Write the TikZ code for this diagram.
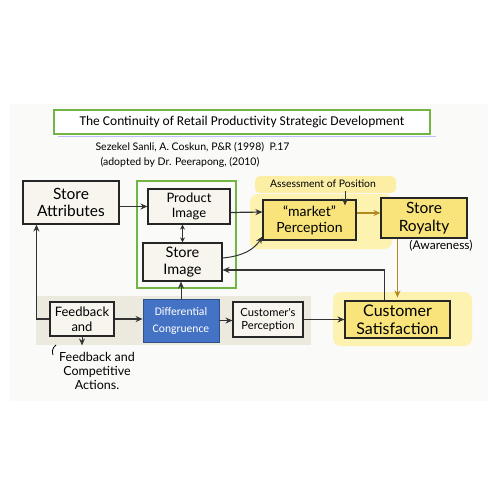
\documentclass[tikz,border=0pt]{standalone}
\usepackage{fontspec}
\setmainfont{Carlito}
\newfontfamily\hand{Lato}
\usetikzlibrary{arrows.meta,calc}
\definecolor{boxfill}{HTML}{F7F5EE}
\definecolor{yfill}{HTML}{F8E47A}
\definecolor{yglow}{HTML}{FDF2B0}
\definecolor{gframe}{HTML}{72B545}
\definecolor{bluebox}{HTML}{4472C4}
\definecolor{band}{HTML}{ECEADF}
\definecolor{brownarr}{HTML}{B08A1E}
\definecolor{bgpanel}{HTML}{FAFAF8}
\begin{document}
\begin{tikzpicture}[x=1pt,y=-1pt,
  box/.style={draw=black!85, line width=1.1pt, fill=boxfill, align=center, inner sep=1pt},
  ybox/.style={box, fill=yfill},
  arr/.style={-{Stealth[length=7pt,width=6pt]}, line width=1.2pt, draw=black!80},
  barr/.style={arr, draw=brownarr, -{Stealth[length=7pt,width=6pt,fill=brownarr]}},
  hw/.style={font=\hand\fontsize{#1}{#1}\selectfont\setlength{\baselineskip}{1.15\baselineskip}},
  hw/.default=11]
\useasboundingbox (0,0) rectangle (500,500);
\fill[white] (0,0) rectangle (500,500);
\fill[bgpanel] (10,104) rectangle (488,401);

% highlight blobs
\fill[yglow!80!yfill, rounded corners=5pt] (255,176) rectangle (396,193);
\fill[yglow, rounded corners=8pt] (250,194) rectangle (392,249);
\fill[yglow, rounded corners=8pt] (333,292) rectangle (472,346);
% beige band
\fill[band] (36,296) rectangle (311,345);

% title
\draw[blue!25, line width=1pt] (58,136) -- (436,136);
\node[draw=gframe, line width=1.2pt, fill=white, minimum width=376pt, minimum height=24pt,
      font=\fontsize{13.5}{14}\selectfont] (title) at (242,122)
      {The Continuity of Retail Productivity Strategic Development};

% citation
\node[hw=10.5, anchor=west] (cite1) at (92,147) {Sezekel Sanli, A. Coskun, P\&R (1998)\ \ P.17};
\node[hw=10.5, anchor=west] (cite2) at (97,162) {(adopted by Dr. Peerapong, (2010)};

% green frame
\node[draw=gframe, line width=2pt, minimum width=99pt, minimum height=107pt] (gf) at (186.5,234.5) {};

% boxes
\node[box, hw=15.5, minimum width=96pt, minimum height=43pt] (sa) at (71,202.5) {Store\\Attributes};
\node[box, hw=13, minimum width=82pt, minimum height=35pt] (pi) at (189,206.5) {Product\\Image};
\node[box, hw=14.5, minimum width=79pt, minimum height=38pt] (si) at (182.5,262) {Store\\Image};
\node[ybox, hw=14, minimum width=93pt, minimum height=40pt] (mp) at (309.5,220) {“market”\\Perception};
\node[ybox, hw=15.5, minimum width=86pt, minimum height=40pt] (sr) at (424,218) {Store\\Royalty};
\node[ybox, hw=16, minimum width=105pt, minimum height=37pt] (cs) at (397.5,319.5) {Customer\\Satisfaction};
\node[box, hw=13, minimum width=64pt, minimum height=34pt] (fb) at (82,319) {Feedback\\and};
\node[draw=bluebox!70!black, line width=0.8pt, fill=bluebox, text=white, align=center,
      minimum width=76pt, minimum height=43pt, font=\fontsize{11.6}{17}\selectfont] (dc) at (181,320.5) {Differential\\Congruence};
\node[box, hw=11.2, minimum width=70pt, minimum height=35pt] (cp) at (268,319.5) {Customer's\\Perception};

% labels
\node[hw=10.4] (asp) at (323,184) {Assessment of Position};
\node[hw=12] (aw) at (441,246) {(Awareness)};
\node[hw=12.5, align=center] (fca) at (97,371) {Feedback and\\Competitive\\Actions.};
\draw[line width=0.8pt] (56,345) .. controls (52,348) and (52,352) .. (53,355);

% connectors
\draw[arr] (sa.east |- pi.west) -- (pi.west);
\draw[arr] ([yshift=-6pt]pi.east) -- ([yshift=8pt]mp.west);
\draw[arr, {Stealth[length=5pt,width=5pt]}-{Stealth[length=5pt,width=5pt]}, line width=1pt] (pi.south -| si.north) -- (si.north);
\draw[arr, line width=1pt] ([yshift=4pt]si.east) .. controls (245,256) and (255,248) .. ([yshift=4pt]mp.south west);
\draw[arr, line width=1pt] ([xshift=22pt]asp.south) -- ([xshift=35.5pt,yshift=-6pt]mp.north);
\draw[barr] ([yshift=7pt]mp.east) -- ([yshift=5pt]sr.west);
\coordinate (b1) at ([xshift=17pt]sr.south west);
\draw[barr] (b1) -- ([yshift=3pt]b1 |- cs.north);
\draw[arr] ([xshift=40pt]cs.north west) |- ([yshift=-8pt]si.east);
\draw[arr] (fb.east) -- (dc.west |- fb.east);
\draw[arr, line width=1pt] (dc.north) -- (si.south -| dc.north);
\draw[arr] (dc.east) -- (cp.west |- dc.east);
\draw[arr] (cp.east |- cs.west) -- (cs.west);
\draw[arr] (fb.west) -| ([xshift=14pt]sa.south west);
\draw[arr, line width=1pt] (fb.south) -- ([yshift=3pt]fb.south |- fca.north);
\end{tikzpicture}
\end{document}
